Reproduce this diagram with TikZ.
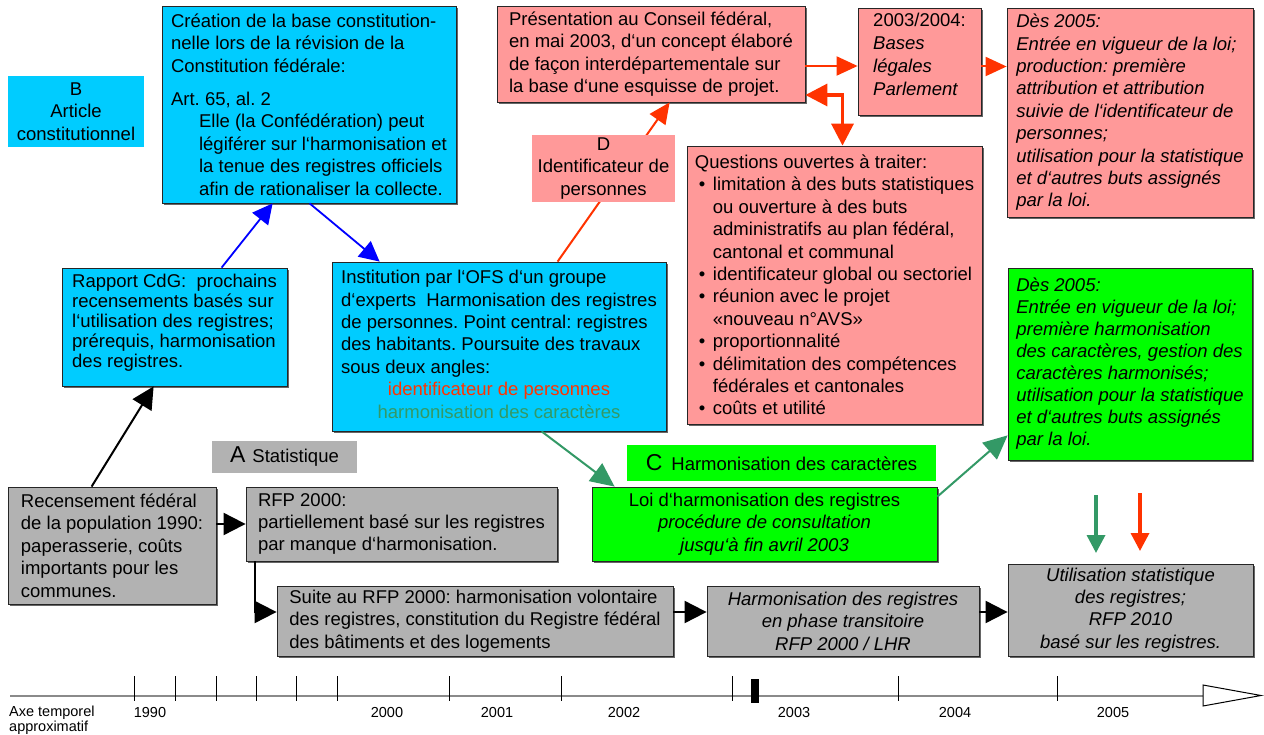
\documentclass[tikz,border=0pt]{standalone}
\usepackage{fontspec}
\setmainfont{Liberation Sans}
\usetikzlibrary{arrows.meta,shadows,calc}
\frenchspacing
\definecolor{cyanbox}{HTML}{00CCFF}
\definecolor{pinkbox}{HTML}{FF9999}
\definecolor{graybox}{HTML}{B2B2B2}
\definecolor{greenbox}{HTML}{00FF00}
\definecolor{orangered}{HTML}{FF3300}
\definecolor{seagreen}{HTML}{339966}
\definecolor{blueline}{HTML}{0000FF}
\definecolor{axisgray}{HTML}{8A8A8A}
\newcommand{\diagfont}{\fontsize{18.5}{22.4}\selectfont}
\newcommand{\smallfont}{\fontsize{14.5}{15}\selectfont}
\newcommand{\qbul}{\makebox[18pt][l]{\hspace{4pt}\textbullet}}
\newcommand{\qind}{\hspace*{18pt}}
\begin{document}
\begin{tikzpicture}[x=1pt,y=-1pt,
  framebox/.style={draw=black!85, line width=0.8pt, inner sep=0pt, font=\diagfont,
    drop shadow={shadow xshift=2pt, shadow yshift=-2pt, fill=black!75, opacity=0.8}},
  tagbox/.style={inner sep=0pt, font=\diagfont, align=center},
  blackarrow/.style={black, line width=2pt, -{Triangle[length=22pt,width=22pt]}},
  bluearrow/.style={blueline, line width=1.8pt, -{Triangle[length=20pt,width=20pt]}},
  redarrow/.style={orangered, line width=2pt, -{Triangle[length=21pt,width=19pt]}},
  dblarrow/.style={orangered, line width=3.5pt, {Triangle[length=22pt,width=22pt]}-{Triangle[length=22pt,width=22pt]}},
  greenarrow/.style={seagreen, line width=2pt, -{Triangle[length=24pt,width=22pt]}},
  vgreen/.style={seagreen, line width=3.5pt, -{Triangle[length=18pt,width=18pt]}},
  vred/.style={orangered, line width=3.5pt, -{Triangle[length=18pt,width=18pt]}},
  yearlbl/.style={inner sep=0pt, font=\smallfont},
  tickline/.style={black, line width=0.8pt}
]
\useasboundingbox[fill=white] (0,0) rectangle (1264,735);

% label boxes
\node[tagbox, fill=cyanbox, minimum width=136pt, minimum height=71pt] (blabel) at (76,111.5)
  {B\\Article\\constitutionnel};
\node[tagbox, fill=graybox, minimum width=145pt, minimum height=32pt] (alabel) at (284.5,457)
  {{\fontsize{23}{23}\selectfont A}\hspace{7pt}Statistique};
\node[tagbox, fill=greenbox, minimum width=309pt, minimum height=36pt] (clabel) at (781.5,463)
  {{\fontsize{23}{23}\selectfont C}\hspace{9pt}Harmonisation des caractères};

% cyan boxes
\node[framebox, fill=cyanbox, align=left, minimum width=294pt, minimum height=197pt] (creation) at (309,104.5)
  {Création de la base constitution-\\nelle lors de la révision de la\\Constitution fédérale:\\[11pt]Art. 65, al. 2\\
   \hspace*{28pt}Elle (la Confédération) peut\\\hspace*{28pt}légiférer sur l‘harmonisation et\\
   \hspace*{28pt}la tenue des registres officiels\\\hspace*{28pt}afin de rationaliser la collecte.};
\node[framebox, fill=cyanbox, align=left, font=\fontsize{18.5}{20}\selectfont, minimum width=225pt, minimum height=118pt] (rapport) at (174.5,327)
  {Rapport CdG:~ prochains\\recensements basés sur\\l‘utilisation des registres;\\prérequis, harmonisation\\des registres.\\[-8pt]\mbox{}};
\node[framebox, fill=cyanbox, minimum width=334pt, minimum height=169pt] (inst) at (499,346.5)
  {\begin{tabular}{@{}l@{}}
   Institution par l‘OFS d‘un groupe\\
   d‘experts~ Harmonisation des registres\\
   de personnes. Point central: registres\\
   des habitants. Poursuite des travaux\\
   sous deux angles:\\
   \multicolumn{1}{@{}c@{}}{\textcolor{orangered}{identificateur de personnes}}\\
   \multicolumn{1}{@{}c@{}}{\textcolor{seagreen}{harmonisation des caractères}}
   \end{tabular}};

% pink boxes
\node[framebox, fill=pinkbox, align=left, minimum width=308pt, minimum height=96pt] (pres) at (651,54)
  {Présentation au Conseil fédéral,\\en mai 2003, d‘un concept élaboré\\de façon interdépartementale sur\\la base d‘une esquisse de projet.};
\node[framebox, fill=pinkbox, align=left, font=\fontsize{18.5}{23}\selectfont, minimum width=123pt, minimum height=107pt] (bases) at (919.5,61.5)
  {2003/2004:\\\textit{Bases}\\\textit{légales}\\\textit{Parlement}\\[-8pt]\mbox{}};
\node[framebox, fill=pinkbox, align=left, font=\diagfont\itshape, minimum width=246pt, minimum height=209pt] (desA) at (1130,112.5)
  {Dès 2005:\\Entrée en vigueur de la loi;\\production: première\\attribution et attribution\\suivie de l‘identificateur de\\personnes;\\utilisation pour la statistique\\et d‘autres buts assignés\\par la loi.};
\node[framebox, fill=pinkbox, align=left, minimum width=295pt, minimum height=278pt] (questions) at (834.5,285)
  {Questions ouvertes à traiter:\\
   \qbul limitation à des buts statistiques\\\qind ou ouverture à des buts\\\qind administratifs au plan fédéral,\\\qind cantonal et communal\\
   \qbul identificateur global ou sectoriel\\
   \qbul réunion avec le projet\\\qind «nouveau n°AVS»\\
   \qbul proportionnalité\\
   \qbul délimitation des compétences\\\qind fédérales et cantonales\\
   \qbul coûts et utilité};

% green boxes
\node[framebox, fill=greenbox, align=center, minimum width=345pt, minimum height=74pt] (loi) at (764.5,524)
  {Loi d‘harmonisation des registres\\\textit{procédure de consultation}\\\textit{jusqu‘à fin avril 2003}};
\node[framebox, fill=greenbox, align=left, font=\fontsize{18.5}{22}\selectfont\itshape, minimum width=244pt, minimum height=192pt] (desB) at (1130,364)
  {Dès 2005:\\Entrée en vigueur de la loi;\\première harmonisation\\des caractères, gestion des\\caractères harmonisés;\\utilisation pour la statistique\\et d‘autres buts assignés\\par la loi.};

% gray boxes
\node[framebox, fill=graybox, align=left, minimum width=208pt, minimum height=117pt] (recens) at (112,545.5)
  {Recensement fédéral\\de la population 1990:\\paperasserie, coûts\\importants pour les\\communes.};
\node[framebox, fill=graybox, align=left, minimum width=311pt, minimum height=74pt] (rfp) at (401.5,524)
  {RFP 2000:\\partiellement basé sur les registres\\par manque d‘harmonisation.};
\node[framebox, fill=graybox, align=left, minimum width=396pt, minimum height=70pt] (suite) at (475,621)
  {Suite au RFP 2000: harmonisation volontaire\\des registres, constitution du Registre fédéral\\des bâtiments et des logements};
\node[framebox, fill=graybox, align=center, font=\diagfont\itshape, minimum width=272pt, minimum height=70pt] (harm) at (843,621)
  {Harmonisation des registres\\en phase transitoire\\RFP 2000 / LHR};
\node[framebox, fill=graybox, align=center, font=\diagfont\itshape, minimum width=245pt, minimum height=92pt] (util) at (1130.5,610)
  {Utilisation statistique\\des registres;\\RFP 2010\\basé sur les registres.};

% connectors
\draw[blackarrow] ([xshift=84pt]recens.north west) -- ([xshift=92pt]rapport.south west);
\draw[bluearrow] ([xshift=160pt]rapport.north west) -- ([xshift=111pt]creation.south west);
\draw[bluearrow] ([xshift=148pt]creation.south west) -- ([xshift=48pt]inst.north west);
\draw[redarrow] ([xshift=226pt]inst.north west) -- ([xshift=173pt]pres.south west);
\node[tagbox, fill=pinkbox, minimum width=143pt, minimum height=67pt] (dlabel) at (603.5,168.5)
  {D\\Identificateur de\\personnes};
\draw[redarrow] ([yshift=-12pt]pres.east) -- ([yshift=-12pt]pres.east -| bases.west);
\draw[redarrow] ([yshift=-5pt]bases.east) -- ([yshift=-5pt]bases.east -| desA.west);
\draw[dblarrow] ([yshift=-41pt]pres.east) -| ([xshift=8pt]questions.north);
\draw[greenarrow] ([xshift=210pt]inst.south west) -- ([xshift=23pt]loi.north west);
\draw[greenarrow] ([yshift=-10pt]loi.north east) -- ([yshift=25pt]desB.south west);
\draw[blackarrow] (recens.east |- rfp.west) -- (rfp.west);
\draw[blackarrow] ([xshift=9pt]rfp.south west) |- ([yshift=9pt]suite.west);
\draw[blackarrow] ([yshift=9pt]suite.east) -- ([yshift=9pt]suite.east -| harm.west);
\draw[blackarrow] ([yshift=9pt]harm.east) -- ([yshift=9pt]harm.east -| util.west);
\coordinate (gtop) at (1096,495);
\coordinate (gbot) at (1096,553);
\coordinate (rtop) at (1140,493);
\coordinate (rbot) at (1140,551);
\draw[vgreen] (gtop) -- (gbot);
\draw[vred] (rtop) -- (rbot);

% timeline
\draw[axisgray, line width=2pt] (10,695.5) -- (1203,695.5);
\foreach \tx in {134,175,216,256,296,337,449,561,732,898,1057}
  \draw[tickline] (\tx,676) -- (\tx,701);
\fill[black] (751,679) rectangle (759,703);
\draw[black, fill=white, line width=1pt] (1203,685) -- (1261,695.5) -- (1203,706) -- cycle;
\node[yearlbl, anchor=north west, align=left] (axe) at (9,706) {Axe temporel\\approximatif};
\node[yearlbl] (y1990) at (150,713) {1990};
\node[yearlbl] (y2000) at (387,713) {2000};
\node[yearlbl] (y2001) at (497,713) {2001};
\node[yearlbl] (y2002) at (624,713) {2002};
\node[yearlbl] (y2003) at (794,713) {2003};
\node[yearlbl] (y2004) at (955,713) {2004};
\node[yearlbl] (y2005) at (1113,713) {2005};
\end{tikzpicture}
\end{document}
